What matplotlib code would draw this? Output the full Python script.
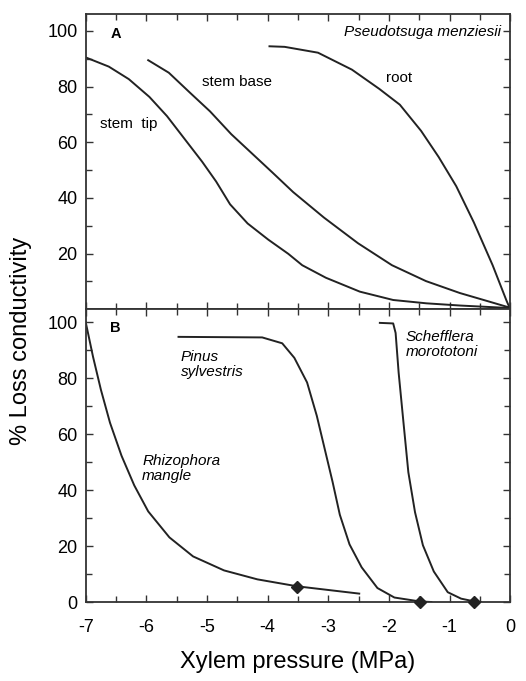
import matplotlib
matplotlib.use("Agg")
import matplotlib.pyplot as plt
from matplotlib.ticker import MultipleLocator

plt.rcParams['font.family'] = ['Liberation Sans', 'DejaVu Sans']

# panel A: Pseudotsuga menziesii
stem_tip_x = [-7.0, -6.62, -6.29, -5.95, -5.66, -5.37, -5.08, -4.85, -4.62, -4.33, -3.99,
              -3.66, -3.43, -3.04, -2.48, -1.93, -1.38, -0.82, 0.0]
stem_tip_y = [90.5, 87.2, 82.7, 76.3, 69.4, 61.2, 53.0, 45.9, 37.7, 30.8, 25.0,
              19.9, 15.8, 11.3, 6.3, 3.3, 2.1, 1.3, 0.4]
stem_base_x = [-5.97, -5.63, -5.29, -4.95, -4.6, -4.26, -3.92, -3.58, -3.07, -2.51, -1.95,
               -1.39, -0.83, -0.39, 0.0]
stem_base_y = [89.5, 85.0, 78.0, 71.1, 62.9, 56.0, 49.1, 42.1, 32.9, 23.7, 15.8,
               10.1, 5.8, 3.0, 0.5]
root_x = [-3.97, -3.72, -3.17, -2.61, -2.16, -1.82, -1.47, -1.18, -0.89, -0.6, -0.29, -0.06, 0.0]
root_y = [94.5, 94.3, 92.2, 86.1, 79.2, 73.5, 64.1, 54.7, 44.2, 31.2, 15.8, 3.0, 0.0]

# panel B: three species
rhizo_x = [-7.0, -6.88, -6.75, -6.6, -6.41, -6.2, -5.97, -5.62, -5.23, -4.72, -4.17, -3.51, -2.49]
rhizo_y = [100.0, 87.7, 75.9, 64.1, 52.3, 41.7, 32.4, 23.1, 16.3, 11.3, 8.1, 5.6, 3.0]
pinus_x = [-5.47, -4.09, -3.76, -3.56, -3.35, -3.19, -3.06, -2.93, -2.81, -2.65, -2.45,
           -2.19, -1.91, -1.49, -1.3]
pinus_y = [94.8, 94.6, 92.5, 87.3, 78.5, 66.6, 54.8, 43.0, 31.2, 20.6, 12.4,
           5.0, 1.6, 0.2, 0.0]
scheff_x = [-2.15, -1.93, -1.89, -1.84, -1.76, -1.68, -1.57, -1.44, -1.26, -1.03, -0.81, -0.59, -0.48]
scheff_y = [99.8, 99.6, 96.2, 82.0, 64.1, 46.4, 32.1, 20.3, 10.9, 3.5, 1.2, 0.2, 0.0]
point_x = [-3.51, -1.49, -0.59]
point_y = [5.5, 0.0, 0.0]

x_ticks = [-7, -6, -5, -4, -3, -2, -1, 0]

fig = plt.figure(figsize=(5.26, 6.81), dpi=100)
axA = fig.add_axes([0.163, 0.546, 0.807, 0.433])
axB = fig.add_axes([0.163, 0.116, 0.807, 0.430], sharex=axA)

lw = 1.4
ink = '#222222'
axA.plot(stem_tip_x, stem_tip_y, color=ink, lw=lw)
axA.plot(stem_base_x, stem_base_y, color=ink, lw=lw)
axA.plot(root_x, root_y, color=ink, lw=lw)

axB.plot(rhizo_x, rhizo_y, color=ink, lw=lw)
axB.plot(pinus_x, pinus_y, color=ink, lw=lw)
axB.plot(scheff_x, scheff_y, color=ink, lw=lw)
axB.plot(point_x, point_y, 'D', color=ink, ms=6, clip_on=False, zorder=5)

axA.set_xlim(-7, 0)
axA.set_ylim(0, 106)
axB.set_ylim(0, 104.7)

axA.set_yticks([20, 40, 60, 80, 100])
axB.set_yticks([0, 20, 40, 60, 80, 100])
axB.set_xticks(x_ticks)
axB.set_xticklabels([str(v) for v in x_ticks])

for ax in (axA, axB):
    ax.xaxis.set_minor_locator(MultipleLocator(0.5))
    ax.yaxis.set_minor_locator(MultipleLocator(10))
    ax.tick_params(which='both', direction='in', top=True, right=True,
                   labelsize=13, width=1.0, color='#333333')
    ax.tick_params(which='major', length=5)
    ax.tick_params(which='minor', length=4)
    ax.tick_params(axis='y', pad=6)
    for s in ax.spines.values():
        s.set_linewidth(1.3)
        s.set_color('#333333')
axA.tick_params(axis='x', which='both', labelbottom=False)
axB.tick_params(axis='x', pad=12)

axA.text(-6.5, 99, 'A', fontsize=10.5, fontweight='bold', ha='center', va='center')
axA.text(-2.74, 99.5, 'Pseudotsuga menziesii', fontsize=11, style='italic', ha='left', va='center')
axA.text(-4.5, 81.5, 'stem base', fontsize=11, ha='center', va='center')
axA.text(-1.83, 83, 'root', fontsize=11, ha='center', va='center')
axA.text(-6.29, 66.7, 'stem  tip', fontsize=11, ha='center', va='center')

axB.text(-6.52, 98, 'B', fontsize=10.5, fontweight='bold', ha='center', va='center')
axB.text(-5.43, 85, 'Pinus\nsylvestris', fontsize=11, style='italic', ha='left', va='center',
         linespacing=1.1)
axB.text(-6.07, 47.6, 'Rhizophora\nmangle', fontsize=11, style='italic', ha='left', va='center',
         linespacing=1.1)
axB.text(-1.73, 92, 'Schefflera\nmorototoni', fontsize=11, style='italic', ha='left', va='center',
         linespacing=1.1)

fig.text(0.04, 0.5, '% Loss conductivity', rotation=90, fontsize=17, ha='center', va='center')
axB.set_xlabel('Xylem pressure (MPa)', fontsize=17, labelpad=11)

fig.savefig('out.png', dpi=100)
